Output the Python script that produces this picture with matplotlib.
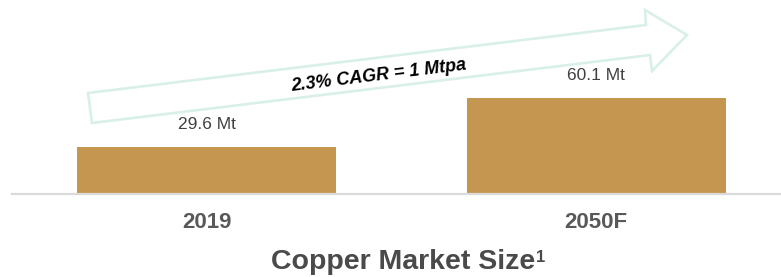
import matplotlib
matplotlib.use("Agg")
import matplotlib.pyplot as plt
from matplotlib.patches import Polygon

# data
years = ["2019", "2050F"]
sizes = [29.6, 60.1]
value_labels = [f"{v} Mt" for v in sizes]
cagr_text = "2.3% CAGR = 1 Mtpa"
title = "Copper Market Size"

plt.rcParams["font.family"] = ["Liberation Sans", "DejaVu Sans"]

W, H = 781, 277
fig = plt.figure(figsize=(W / 100, H / 100), dpi=100)

def px(x, y):
    # pixel (from top-left) -> figure fraction
    return (x / W, 1 - y / H)

# axes: left edge at 12px, baseline at 194px from top
ax = fig.add_axes([12 / W, (H - 194) / H, 1 - 12 / W, 194 / H])
xpos = list(range(len(years)))
ax.bar(xpos, sizes, width=0.665, color="#C59650", zorder=2)
ax.set_xlim(-0.5, 1.475)
ax.set_ylim(0, 121)

for x, v, lab in zip(xpos, sizes, value_labels):
    ax.annotate(lab, xy=(x, v), xytext=(0, 16), textcoords="offset points",
                ha="center", va="center", fontsize=12.5, color="#404040")

ax.set_xticks(xpos)
ax.set_xticklabels(years, fontsize=16, fontweight="bold", color="#595959")
ax.tick_params(axis="x", length=0, pad=13)
ax.set_yticks([])
for s in ["left", "right", "top"]:
    ax.spines[s].set_visible(False)
ax.spines["bottom"].set_color("#DADADA")
ax.spines["bottom"].set_linewidth(1.6)
ax.spines["bottom"].set_zorder(3)

# hollow growth arrow (decoration)
arrow_pts = [px(88, 93), px(646, 25), px(645, 10), px(687, 35),
             px(652, 71), px(650, 55), px(92, 123)]
fig.patches.append(Polygon(arrow_pts, closed=True, fill=False,
                           edgecolor="#D9F0E9", linewidth=1.9,
                           transform=fig.transFigure, figure=fig))

fig.text(*px(379, 76), cagr_text, ha="center", va="center", rotation=7,
         fontsize=13, fontweight="bold", fontstyle="italic", color="black")

t = fig.text(*px(403, 262), title, ha="center", va="center",
             fontsize=20.5, fontweight="bold", color="#4A4A4A")
ax.annotate("1", xy=(1, 1), xycoords=t, xytext=(0.5, -1), textcoords="offset points",
            ha="left", va="top", fontsize=12, fontweight="bold", color="#4A4A4A",
            annotation_clip=False)

fig.savefig("out.png", dpi=100)
